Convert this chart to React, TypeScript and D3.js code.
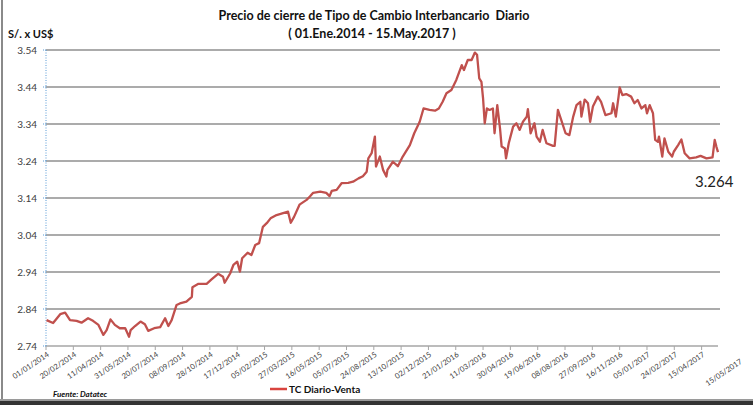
import React from "react";
import * as d3 from "d3";

// tipo de cambio diario (lectura aproximada del gráfico)
const fechas: string[] = [
  "2014-01-02", "2014-01-14", "2014-01-27", "2014-02-05", "2014-02-14", "2014-02-26", "2014-03-07", "2014-03-19",
  "2014-03-28", "2014-04-07", "2014-04-16", "2014-04-22", "2014-04-29", "2014-05-07", "2014-05-16", "2014-05-26",
  "2014-06-02", "2014-06-05", "2014-06-13", "2014-06-23", "2014-07-01", "2014-07-07", "2014-07-18", "2014-07-29",
  "2014-08-07", "2014-08-13", "2014-08-19", "2014-08-28", "2014-09-03", "2014-09-15", "2014-09-25", "2014-09-26",
  "2014-10-07", "2014-10-22", "2014-10-31", "2014-11-12", "2014-11-21", "2014-11-24", "2014-12-04", "2014-12-10",
  "2014-12-17", "2014-12-22", "2014-12-26", "2015-01-05", "2015-01-12", "2015-01-19", "2015-01-26", "2015-02-02",
  "2015-02-09", "2015-02-16", "2015-02-27", "2015-03-11", "2015-03-20", "2015-03-25", "2015-03-31", "2015-04-10",
  "2015-04-23", "2015-04-29", "2015-05-05", "2015-05-18", "2015-05-29", "2015-06-04", "2015-06-08", "2015-06-17",
  "2015-06-26", "2015-07-08", "2015-07-17", "2015-07-27", "2015-08-04", "2015-08-11", "2015-08-14", "2015-08-20",
  "2015-08-26", "2015-08-28", "2015-09-04", "2015-09-10", "2015-09-16", "2015-09-18", "2015-09-28", "2015-10-07",
  "2015-10-16", "2015-10-29", "2015-11-06", "2015-11-16", "2015-11-23", "2015-12-04", "2015-12-14", "2015-12-21",
  "2015-12-28", "2016-01-04", "2016-01-13", "2016-01-22", "2016-02-01", "2016-02-05", "2016-02-12", "2016-02-19",
  "2016-02-25", "2016-02-29", "2016-03-04", "2016-03-08", "2016-03-11", "2016-03-14", "2016-03-18", "2016-03-23",
  "2016-03-29", "2016-04-01", "2016-04-06", "2016-04-11", "2016-04-14", "2016-04-20", "2016-04-22", "2016-04-27",
  "2016-05-05", "2016-05-11", "2016-05-17", "2016-05-23", "2016-05-30", "2016-06-01", "2016-06-06", "2016-06-13",
  "2016-06-17", "2016-06-23", "2016-06-28", "2016-07-05", "2016-07-17", "2016-07-20", "2016-07-26", "2016-08-01",
  "2016-08-09", "2016-08-16", "2016-08-23", "2016-08-29", "2016-09-05", "2016-09-07", "2016-09-13", "2016-09-19",
  "2016-09-23", "2016-09-28", "2016-10-07", "2016-10-13", "2016-10-21", "2016-11-01", "2016-11-04", "2016-11-09",
  "2016-11-14", "2016-11-16", "2016-11-21", "2016-11-28", "2016-12-07", "2016-12-13", "2016-12-19", "2016-12-26",
  "2017-01-02", "2017-01-05", "2017-01-10", "2017-01-16", "2017-01-20", "2017-01-25", "2017-01-27", "2017-02-02",
  "2017-02-06", "2017-02-13", "2017-02-20", "2017-02-23", "2017-03-03", "2017-03-09", "2017-03-15", "2017-03-24",
  "2017-04-05", "2017-04-13", "2017-04-24", "2017-05-05", "2017-05-09", "2017-05-12", "2017-05-15",
];

const venta: number[] = [
  2.81, 2.802, 2.826, 2.83, 2.81, 2.808, 2.803, 2.815,
  2.808, 2.797, 2.77, 2.783, 2.812, 2.797, 2.788, 2.788,
  2.765, 2.783, 2.794, 2.806, 2.799, 2.781, 2.788, 2.791,
  2.815, 2.794, 2.81, 2.851, 2.855, 2.86, 2.873, 2.899,
  2.908, 2.908, 2.92, 2.935, 2.927, 2.911, 2.936, 2.959,
  2.968, 2.941, 2.977, 2.992, 2.986, 3.013, 3.018, 3.062,
  3.072, 3.085, 3.094, 3.099, 3.103, 3.073, 3.089, 3.122,
  3.135, 3.144, 3.154, 3.157, 3.154, 3.145, 3.159, 3.162,
  3.18, 3.181, 3.184, 3.193, 3.199, 3.211, 3.247, 3.261,
  3.306, 3.225, 3.252, 3.216, 3.198, 3.216, 3.238, 3.226,
  3.252, 3.283, 3.315, 3.346, 3.382, 3.378, 3.376, 3.382,
  3.4, 3.423, 3.432, 3.459, 3.499, 3.486, 3.513, 3.513,
  3.533, 3.527, 3.463, 3.454, 3.409, 3.342, 3.382, 3.378,
  3.382, 3.315, 3.391, 3.328, 3.279, 3.274, 3.247, 3.288,
  3.333, 3.342, 3.324, 3.346, 3.36, 3.38, 3.315, 3.342,
  3.306, 3.292, 3.324, 3.288, 3.281, 3.281, 3.378, 3.351,
  3.315, 3.31, 3.36, 3.391, 3.4, 3.36, 3.406, 3.396,
  3.346, 3.387, 3.414, 3.4, 3.364, 3.369, 3.396, 3.36,
  3.414, 3.439, 3.418, 3.421, 3.414, 3.396, 3.405, 3.382,
  3.391, 3.369, 3.391, 3.369, 3.297, 3.292, 3.306, 3.252,
  3.301, 3.265, 3.252, 3.265, 3.283, 3.298, 3.261, 3.247,
  3.25, 3.254, 3.247, 3.25, 3.297, 3.279, 3.264,
];

const yTicks: number[] = [2.74, 2.84, 2.94, 3.04, 3.14, 3.24, 3.34, 3.44, 3.54];

const xTickLabels: string[] = [
  "01/01/2014", "20/02/2014", "11/04/2014", "31/05/2014", "20/07/2014", "08/09/2014", "28/10/2014",
  "17/12/2014", "05/02/2015", "27/03/2015", "16/05/2015", "05/07/2015", "24/08/2015", "13/10/2015",
  "02/12/2015", "21/01/2016", "11/03/2016", "30/04/2016", "19/06/2016", "08/08/2016", "27/09/2016",
  "16/11/2016", "05/01/2017", "24/02/2017", "15/04/2017", "15/05/2017",
];

const ultimo = "3.264";

const W = 753;
const H = 405;
const FONT = "Lato, 'Open Sans', sans-serif";

export default function App() {
  const parse = d3.timeParse("%Y-%m-%d");
  const parseTick = d3.timeParse("%d/%m/%Y");
  const data = fechas.map((f, i) => ({ date: parse(f) as Date, value: venta[i] }));
  const tickDates = xTickLabels.map((t) => parseTick(t) as Date);

  const x = d3.scaleTime()
    .domain([tickDates[0], tickDates[tickDates.length - 1]])
    .range([46, 718]);
  const y = d3.scaleLinear().domain([2.74, 3.54]).range([346, 50]);

  const line = d3.line<{ date: Date; value: number }>()
    .x((d) => x(d.date))
    .y((d) => y(d.value));

  const [x0, x1] = x.range();

  return (
    <svg width={W} height={H} style={{ position: "absolute", left: 0, top: 0, background: "#fff" }}>
      <defs>
        <filter id="glow" x="-5%" y="-300%" width="110%" height="700%">
          <feGaussianBlur stdDeviation="2" />
        </filter>
      </defs>

      {/* marco */}
      <line x1={2} x2={2} y1={0} y2={400} stroke="#8a8a8a" strokeWidth={2} />
      <rect x={0} y={399} width={W} height={2} fill="#9a9a9a" />
      <rect x={0} y={401} width={W} height={4} fill="#333" />

      {/* titulo */}
      <text x={374} y={20} textAnchor="middle" fontFamily={FONT} fontWeight="bold" fontSize={12.5} fill="#111"
        style={{ whiteSpace: "pre" }}>
        Precio de cierre de Tipo de Cambio Interbancario  Diario
      </text>
      <text x={372} y={38} textAnchor="middle" fontFamily={FONT} fontWeight="bold" fontSize={12.5} fill="#111">
        ( 01.Ene.2014 - 15.May.2017 )
      </text>
      <text x={8} y={38} fontFamily={FONT} fontWeight="bold" fontSize={11} fill="#111">
        S/. x US$
      </text>

      {/* grilla */}
      {yTicks.slice(1).map((t) => (
        <g key={t}>
          <line x1={x0} x2={x1 + 2} y1={y(t) + 1} y2={y(t) + 1} stroke="#cdd2e4" strokeWidth={4} filter="url(#glow)" />
          <line x1={x0} x2={x1 + 2} y1={y(t)} y2={y(t)} stroke="#8f8f8f" strokeWidth={1.5} />
        </g>
      ))}

      {/* eje x */}
      <line x1={x0} x2={x1} y1={y(2.74)} y2={y(2.74)} stroke="#a6a6a6" strokeWidth={1.5} />
      {tickDates.slice(0, -1).map((d, i) => (
        <line key={i} x1={x(d)} x2={x(d)} y1={346} y2={350} stroke="#a6a6a6" strokeWidth={1} />
      ))}
      {tickDates.map((d, i) => {
        const last = i === tickDates.length - 1;
        const tx = x(d) + (last ? 22 : 1);
        const ty = 352 + (last ? 7 : 0);
        return (
          <text key={i} x={tx} y={ty} transform={`rotate(-34 ${tx} ${ty})`} textAnchor="end"
            fontFamily={FONT} fontSize={7.6} fill="#404040" dy="0.6em">
            {xTickLabels[i]}
          </text>
        );
      })}

      {/* eje y */}
      <line x1={x0} x2={x0} y1={y(3.54)} y2={y(2.74)} stroke="#5b9bd5" strokeWidth={1} strokeDasharray="1,1.5" />
      {yTicks.map((t) => (
        <g key={t}>
          <line x1={x0 - 3} x2={x0} y1={y(t)} y2={y(t)} stroke="#5b9bd5" strokeWidth={1} strokeDasharray="1,1" />
          <text x={37} y={y(t)} dy="0.35em" textAnchor="end" fontFamily={FONT} fontSize={10} fill="#404040">
            {t.toFixed(2)}
          </text>
        </g>
      ))}

      {/* serie */}
      <path d={line(data) || ""} fill="none" stroke="#c0504d" strokeWidth={2.3} strokeLinejoin="round" />

      <text x={695} y={187} fontFamily={FONT} fontSize={15} fill="#222">
        {ultimo}
      </text>

      {/* leyenda */}
      <line x1={270} x2={287} y1={389} y2={389} stroke="#d9443f" strokeWidth={2.5} />
      <text x={289} y={392.5} fontFamily={FONT} fontWeight="bold" fontSize={10} fill="#111">
        TC Diario-Venta
      </text>
      <text x={53} y={397} fontFamily={FONT} fontWeight="bold" fontStyle="italic" fontSize={8} fill="#111">
        Fuente: Datatec
      </text>
    </svg>
  );
}
